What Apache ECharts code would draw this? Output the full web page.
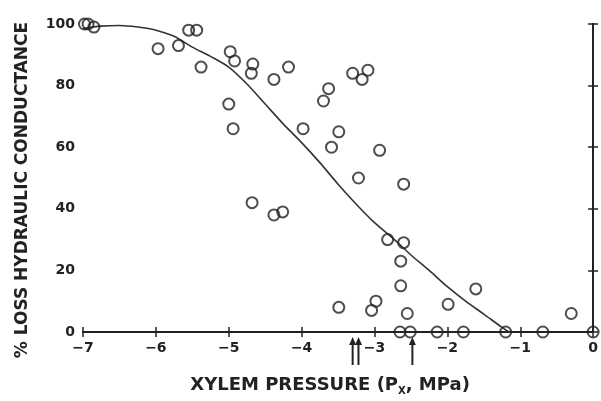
<!DOCTYPE html>
<html>
<head>
<meta charset="utf-8">
<script src="https://cdn.jsdelivr.net/npm/echarts@6/dist/echarts.min.js"></script>
<style>
  html, body { margin: 0; padding: 0; background: #fff; }
  #main { width: 601px; height: 401px; }
</style>
</head>
<body>
<div id="main"></div>
<script>
var obsX = [-6.98, -6.93, -6.85, -5.55, -5.44, -5.97, -5.69, -5.38, -4.98, -4.92,
            -4.67, -4.69, -4.38, -4.18, -5.0, -4.94, -4.68, -4.38, -4.26, -3.98,
            -3.70, -3.63, -3.49, -3.59, -3.30, -3.17, -3.09, -3.22, -2.93, -3.49,
            -3.04, -2.98, -2.82, -2.60, -2.60, -2.64, -2.64, -2.55, -1.99, -1.61,
            -0.30, -2.65, -2.51, -2.14, -1.78, -1.20, -0.69, 0];
var obsY = [100, 100, 99, 98, 98, 92, 93, 86, 91, 88,
            87, 84, 82, 86, 74, 66, 42, 38, 39, 66,
            75, 79, 65, 60, 84, 82, 85, 50, 59, 8,
            7, 10, 30, 29, 48, 23, 15, 6, 9, 14,
            6, 0, 0, 0, 0, 0, 0, 0];

// fitted curve
var curveX = [-7, -6.75, -6.5, -6.25, -6, -5.75, -5.5, -5.25, -5, -4.75, -4.5, -4.25,
              -4, -3.75, -3.5, -3.25, -3, -2.75, -2.5, -2.25, -2, -1.75, -1.5, -1.25, -1.15];
var curveY = [98.5, 99.3, 99.5, 99, 98, 96, 92.5, 89.5, 86, 80.5, 74, 67.5,
              61.5, 55, 48, 41.5, 35.5, 30.5, 25, 20, 14.7, 10, 5.8, 1.5, 0];

// arrows under the x axis
var arrowX = [-3.30, -3.22, -2.48];

var xTicks = [-7, -6, -5, -4, -3, -2, -1, 0];
var yTicks = [0, 20, 40, 60, 80, 100];

var pts = obsX.map(function (x, i) { return [x, obsY[i]]; });
var curve = curveX.map(function (x, i) { return [x, curveY[i]]; });

var myChart = echarts.init(document.getElementById('main'));

var ink = '#222';
var font = 'DejaVu Sans';

var boxAxis = {
    axisLine: { lineStyle: { color: ink, width: 2 } },
    axisTick: { inside: true, length: 5, lineStyle: { color: ink, width: 1.5 } },
    splitLine: { show: false }
};

myChart.setOption({
    backgroundColor: '#fff',
    animation: false,
    grid: { left: 83, right: 7, top: 24, bottom: 68 },
    xAxis: [
        Object.assign({
            type: 'value', min: -7, max: 0, interval: 1,
            name: 'XYLEM PRESSURE (P{s|X}, MPa)',
            nameLocation: 'middle', nameGap: 42,
            nameTextStyle: {
                color: ink, fontFamily: font, fontSize: 18, fontWeight: 'bold',
                padding: [0, 16, 0, 0],
                rich: { s: { fontFamily: font, fontSize: 10, fontWeight: 'bold', color: ink, verticalAlign: 'bottom', padding: [12, 0, 0, 0] } }
            },
            axisLabel: {
                color: ink, fontFamily: font, fontSize: 14, fontWeight: 'bold', margin: 9,
                formatter: function (v) { return xTicks.indexOf(v) < 0 ? '' : String(v).replace('-', '\u2212'); }
            }
        }, boxAxis),
        Object.assign({
            type: 'value', min: -7, max: 0, interval: 1, position: 'top',
            axisLabel: { show: false }
        }, boxAxis)
    ],
    yAxis: [
        Object.assign({
            type: 'value', min: 0, max: 100, interval: 20,
            name: '% LOSS HYDRAULIC CONDUCTANCE',
            nameLocation: 'middle', nameGap: 52,
            nameTextStyle: {
                color: ink, fontFamily: font, fontSize: 17, fontWeight: 'bold',
                padding: [0, 24, 0, 0]
            },
            axisLabel: {
                color: ink, fontFamily: font, fontSize: 14, fontWeight: 'bold', margin: 8,
                formatter: function (v) { return yTicks.indexOf(v) < 0 ? '' : v; }
            }
        }, boxAxis),
        Object.assign({
            type: 'value', min: 0, max: 100, interval: 20, position: 'right',
            axisLabel: { show: false }
        }, boxAxis)
    ],
    series: [
        {
            type: 'line',
            data: curve,
            smooth: 0.3,
            showSymbol: false,
            lineStyle: { color: '#333', width: 1.6 },
            z: 2
        },
        {
            type: 'scatter',
            data: pts,
            symbol: 'circle',
            symbolSize: 11,
            itemStyle: { color: 'rgba(255,255,255,0)', borderColor: ink, borderWidth: 2 },
            z: 3
        }
    ]
});

// draw the little up-arrows below the axis
var g = [];
arrowX.forEach(function (x) {
    var p = myChart.convertToPixel({ xAxisIndex: 0, yAxisIndex: 0 }, [x, 0]);
    g.push({
        type: 'line',
        shape: { x1: p[0], y1: p[1] + 9, x2: p[0], y2: p[1] + 33 },
        style: { stroke: ink, lineWidth: 2 }
    });
    g.push({
        type: 'polygon',
        shape: { points: [[p[0], p[1] + 5], [p[0] - 3.5, p[1] + 13], [p[0] + 3.5, p[1] + 13]] },
        style: { fill: ink }
    });
});
myChart.setOption({ graphic: g });
</script>
</body>
</html>
